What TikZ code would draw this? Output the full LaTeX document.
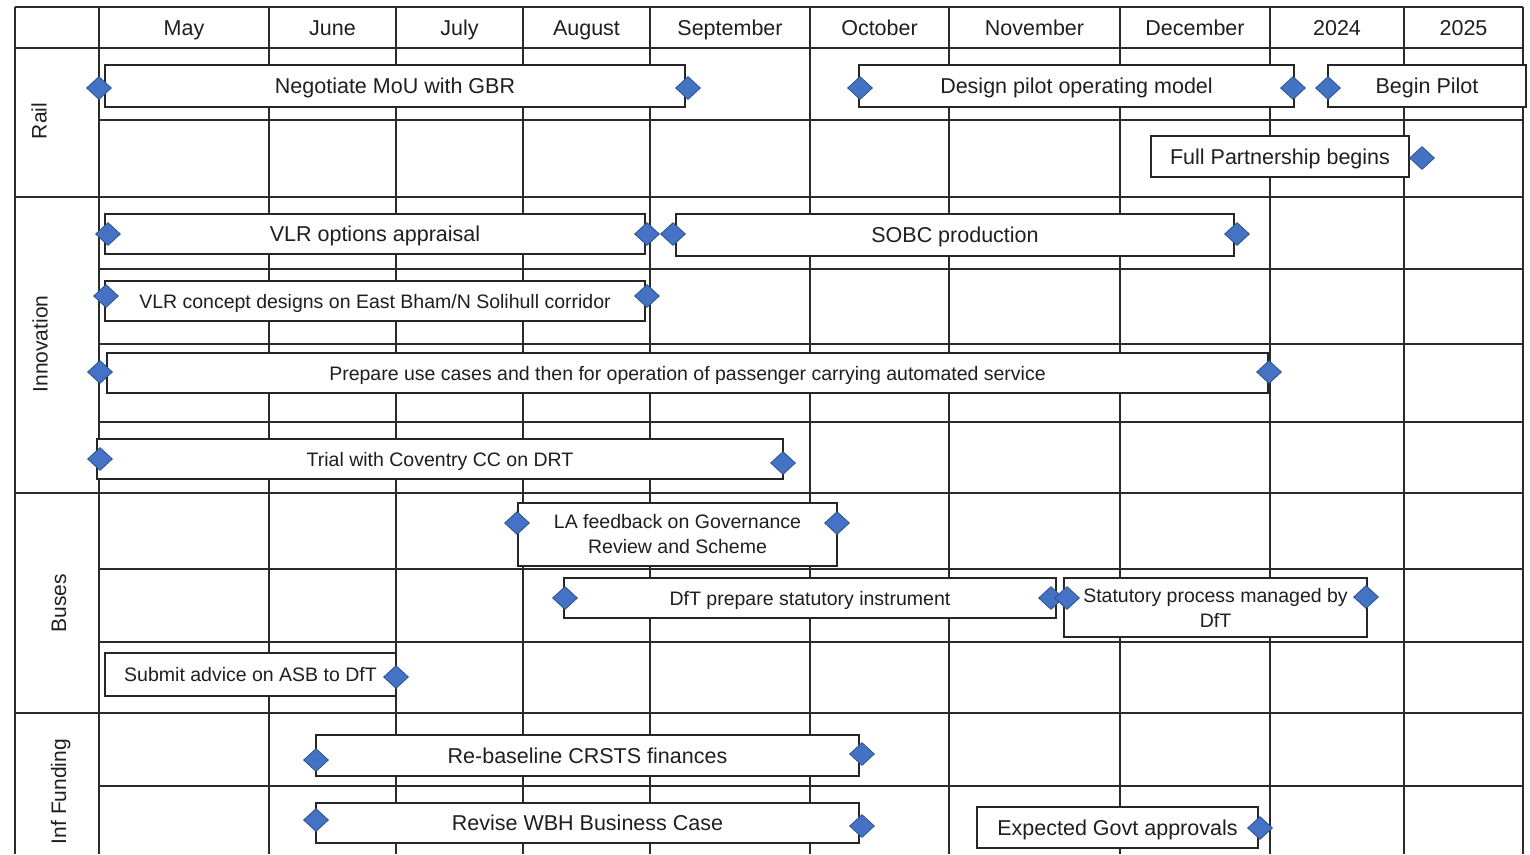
\documentclass[tikz,border=0pt]{standalone}
\usepackage{fontspec}
\setmainfont{Liberation Sans}
\usetikzlibrary{shapes.geometric}
\definecolor{msfill}{HTML}{4472C4}
\definecolor{msline}{HTML}{2F528F}
\definecolor{gridc}{HTML}{2B2B2B}
\definecolor{txt}{HTML}{1F1F1F}
\begin{document}
\begin{tikzpicture}[x=1pt,y=-1pt,
  gridline/.style={draw=gridc,line width=1.3pt},
  bar/.style={draw=black!85,fill=white,line width=1.1pt,inner sep=0pt,align=center,text=txt},
  bigt/.style={font=\fontsize{21.5}{25}\selectfont,text height=15.4pt,text depth=0pt},
  smallt/.style={font=\fontsize{19.5}{25}\selectfont,text height=14pt,text depth=0pt},
  smallm/.style={font=\fontsize{19.5}{25}\selectfont},
  headt/.style={font=\fontsize{21.5}{25}\selectfont,text height=15.4pt,text depth=0pt,inner sep=0pt,text=txt},
  rowt/.style={font=\fontsize{21}{25}\selectfont,text height=15pt,text depth=0pt,inner sep=0pt,rotate=90,text=txt},
  ms/.style={diamond,draw=msline,fill=msfill,line width=0.8pt,minimum width=25pt,minimum height=23pt,inner sep=0pt}]
\path[fill=white] (0,0) rectangle (1530,854);
\useasboundingbox (0,0) rectangle (1530,854);
% grid
\foreach \yy in {7,48,197,493,713} \draw[gridline] (15,\yy) -- (1523,\yy);
\foreach \yy in {120,269,344,422,569,642,786} \draw[gridline] (99,\yy) -- (1523,\yy);
\foreach \xx in {15,99,269,396,523,650,810,949,1120,1270,1404,1523} \draw[gridline] (\xx,7) -- (\xx,854);
% headers
\node[headt] (hMay) at (184,27.5) {May};
\node[headt] (hJun) at (332.5,27.5) {June};
\node[headt] (hJul) at (459.5,27.5) {July};
\node[headt] (hAug) at (586.5,27.5) {August};
\node[headt] (hSep) at (730,27.5) {September};
\node[headt] (hOct) at (879.5,27.5) {October};
\node[headt] (hNov) at (1034.5,27.5) {November};
\node[headt] (hDec) at (1195,27.5) {December};
\node[headt] (h24) at (1337,27.5) {2024};
\node[headt] (h25) at (1463.5,27.5) {2025};
% row labels
\node[rowt] (rRail) at (39,121) {Rail};
\node[rowt] (rInno) at (40,344) {Innovation};
\node[rowt] (rBus) at (58.5,603) {Buses};
\node[rowt] (rInf) at (58.5,791.5) {Inf Funding};
% boxes
\node[bar,bigt,minimum width=580pt,minimum height=42pt] (b1) at (395,86) {Negotiate MoU with GBR};
\node[bar,bigt,minimum width=435pt,minimum height=42pt] (b2) at (1076.5,86) {Design pilot operating model};
\node[bar,bigt,minimum width=198pt,minimum height=42pt] (b3) at (1427,86) {Begin Pilot};
\node[bar,bigt,minimum width=258pt,minimum height=41pt] (b4) at (1280,156.5) {Full Partnership begins};
\node[bar,bigt,minimum width=540pt,minimum height=40pt] (b5) at (375,234) {VLR options appraisal};
\node[bar,bigt,minimum width=558pt,minimum height=42pt] (b6) at (955,235) {SOBC production};
\node[bar,smallt,minimum width=540pt,minimum height=40pt] (b7) at (375,301) {VLR concept designs on East Bham/N Solihull corridor};
\node[bar,smallt,minimum width=1161pt,minimum height=40pt] (b8) at (687.5,373) {Prepare use cases and then for operation of passenger carrying automated service};
\node[bar,smallt,minimum width=686pt,minimum height=40pt] (b9) at (440,459) {Trial with Coventry CC on DRT};
\node[bar,smallm,minimum width=319pt,minimum height=63pt] (b10) at (677.5,534.5) {LA feedback on Governance\\Review and Scheme};
\node[bar,smallt,minimum width=492pt,minimum height=40pt] (b11) at (810,598) {DfT prepare statutory instrument};
\node[bar,smallm,minimum width=303pt,minimum height=59pt] (b12) at (1215.5,607.5) {Statutory process managed by\\DfT};
\node[bar,smallt,minimum width=291pt,minimum height=43pt] (b13) at (250.5,674.5) {Submit advice on ASB to DfT};
\node[bar,bigt,minimum width=543pt,minimum height=41pt] (b14) at (587.5,755.5) {Re-baseline CRSTS finances};
\node[bar,bigt,minimum width=543pt,minimum height=40pt] (b15) at (587.5,823) {Revise WBH Business Case};
\node[bar,bigt,minimum width=281pt,minimum height=41pt] (b16) at (1117.5,827.5) {Expected Govt approvals};
% milestones
\node[ms] (d1a) at (99,88) {};
\node[ms] (d1b) at (688,88) {};
\node[ms] (d2a) at (860,88) {};
\node[ms] (d2b) at (1293,88) {};
\node[ms] (d3a) at (1328,88) {};
\node[ms] (d4b) at (1422,158) {};
\node[ms] (d5a) at (108,234) {};
\node[ms] (d5b) at (647,234) {};
\node[ms] (d6a) at (673,234) {};
\node[ms] (d6b) at (1237,234) {};
\node[ms] (d7a) at (106,296) {};
\node[ms] (d7b) at (647,296) {};
\node[ms] (d8a) at (100,372) {};
\node[ms] (d8b) at (1269,372) {};
\node[ms] (d9a) at (100,459) {};
\node[ms] (d9b) at (783,463) {};
\node[ms] (d10a) at (517,523) {};
\node[ms] (d10b) at (837,523) {};
\node[ms] (d11a) at (565,598) {};
\node[ms] (d11b) at (1051,598) {};
\node[ms] (d12a) at (1067,598) {};
\node[ms] (d12b) at (1366,597) {};
\node[ms] (d13b) at (396,677) {};
\node[ms] (d14a) at (316,760) {};
\node[ms] (d14b) at (862,754) {};
\node[ms] (d15a) at (316,820) {};
\node[ms] (d15b) at (862,826) {};
\node[ms] (d16b) at (1260,828) {};
\end{tikzpicture}
\end{document}
